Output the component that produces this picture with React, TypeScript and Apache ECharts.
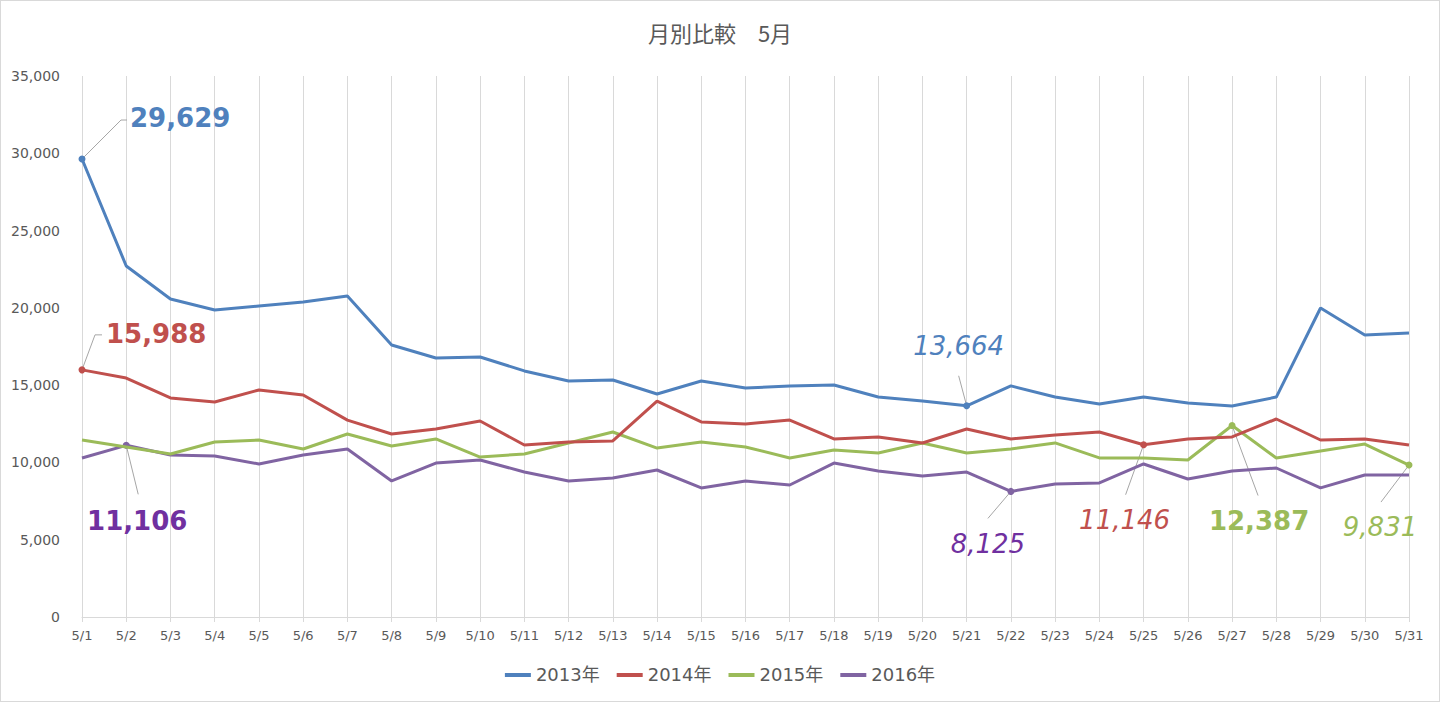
import React, { useEffect, useRef } from "react";
import * as echarts from "echarts";

const days = [
  "5/1", "5/2", "5/3", "5/4", "5/5", "5/6", "5/7", "5/8", "5/9", "5/10",
  "5/11", "5/12", "5/13", "5/14", "5/15", "5/16", "5/17", "5/18", "5/19", "5/20",
  "5/21", "5/22", "5/23", "5/24", "5/25", "5/26", "5/27", "5/28", "5/29", "5/30", "5/31",
];

const y2013 = [
  29629, 22710, 20570, 19860, 20120, 20380, 20770, 17600, 16760, 16820,
  15920, 15270, 15330, 14430, 15270, 14810, 14950, 15010, 14230, 13970,
  13664, 14950, 14230, 13780, 14230, 13840, 13650, 14230, 19990, 18240, 18370,
];
const y2014 = [
  15988, 15460, 14170, 13910, 14690, 14360, 12740, 11840, 12160, 12680,
  11130, 11320, 11390, 13970, 12620, 12490, 12740, 11520, 11650, 11260,
  12160, 11520, 11770, 11970, 11146, 11520, 11650, 12810, 11450, 11520, 11130,
];
const y2015 = [
  11450, 11000, 10550, 11320, 11450, 10870, 11840, 11060, 11520, 10350,
  10550, 11260, 11970, 10930, 11320, 11000, 10290, 10800, 10610, 11260,
  10610, 10870, 11260, 10290, 10290, 10160, 12387, 10290, 10740, 11190, 9831,
];
const y2016 = [
  10290, 11106, 10480, 10420, 9900, 10480, 10870, 8800, 9960, 10160,
  9380, 8800, 8990, 9510, 8350, 8800, 8540, 9960, 9450, 9120,
  9380, 8125, 8600, 8670, 9900, 8930, 9450, 9640, 8350, 9190, 9190,
];

const seriesNames = ["2013年", "2014年", "2015年", "2016年"];
const seriesData = [y2013, y2014, y2015, y2016];
const lineColors = ["#4F81BD", "#C0504D", "#9BBB59", "#8064A2"];
const yTicks = [0, 5000, 10000, 15000, 20000, 25000, 30000, 35000];

// annotated points: series index, day index
const annotations = [
  { s: 0, d: 0, color: "#4F81BD", bold: true, leader: [[39, -39], [45, -39]], tx: 48, ty: -41, align: "left" },
  { s: 1, d: 0, color: "#C0504D", bold: true, leader: [[13, -35], [20, -35]], tx: 24, ty: -36, align: "left" },
  { s: 3, d: 1, color: "#7030A0", bold: true, leader: [[12, 49]], tx: 11, ty: 76, align: "center" },
  { s: 0, d: 20, color: "#4F81BD", bold: false, leader: [[-8, -30]], tx: -8, ty: -60, align: "center" },
  { s: 3, d: 21, color: "#7030A0", bold: false, leader: [[-23, 27]], tx: -23, ty: 53, align: "center" },
  { s: 1, d: 24, color: "#C0504D", bold: false, leader: [[-18, 50]], tx: -19, ty: 75, align: "center" },
  { s: 2, d: 26, color: "#9BBB59", bold: true, leader: [[26, 70]], tx: 27, ty: 95, align: "center" },
  { s: 2, d: 30, color: "#9BBB59", bold: false, leader: [[-28, 37]], tx: -29, ty: 62, align: "center" },
];

const fmt = (v: number) => v.toLocaleString("en-US");

export default function App() {
  const ref = useRef<HTMLDivElement>(null);

  useEffect(() => {
    document.body.style.margin = "0";
    if (!ref.current) return;
    const chart = echarts.init(ref.current, null, { renderer: "svg" });
    const option: any = {
      animation: false,
      backgroundColor: "#ffffff",
      title: {
        text: "月別比較　5月",
        left: "center",
        top: 15,
        textStyle: {
          fontFamily: "'Noto Sans CJK JP', 'DejaVu Sans', sans-serif",
          fontSize: 22,
          fontWeight: "normal",
          color: "#595959",
        },
      },
      legend: {
        top: 660,
        left: "center",
        icon: "rect",
        itemWidth: 26,
        itemHeight: 4,
        itemGap: 17,
        textStyle: {
          fontFamily: "'DejaVu Sans', 'Noto Sans CJK JP', sans-serif",
          fontSize: 18,
          color: "#595959",
        },
        data: seriesNames,
      },
      grid: { left: 81, right: 30, top: 75, bottom: 84 },
      xAxis: {
        type: "category",
        data: days,
        boundaryGap: false,
        axisLine: { lineStyle: { color: "#d9d9d9", width: 1 } },
        axisTick: { show: true, length: 5, lineStyle: { color: "#d9d9d9" } },
        splitLine: { show: true, lineStyle: { color: "#d9d9d9", width: 1 } },
        axisLabel: {
          interval: 0,
          margin: 12,
          color: "#595959",
          fontSize: 13,
          fontFamily: "'DejaVu Sans', sans-serif",
        },
      },
      yAxis: {
        type: "value",
        min: yTicks[0],
        max: yTicks[yTicks.length - 1],
        interval: yTicks[1] - yTicks[0],
        axisLine: { show: false },
        axisTick: { show: false },
        splitLine: { show: false },
        axisLabel: {
          margin: 22,
          color: "#595959",
          fontSize: 14,
          fontFamily: "'DejaVu Sans', sans-serif",
          formatter: (v: number) => fmt(v),
        },
      },
      series: seriesData.map((data, si) => ({
        name: seriesNames[si],
        type: "line",
        data,
        color: lineColors[si],
        lineStyle: { width: 3, color: lineColors[si] },
        symbol: "circle",
        symbolSize: (_v: any, p: any) =>
          annotations.some((a) => a.s === si && a.d === p.dataIndex) ? 7 : 0,
        itemStyle: { color: lineColors[si] },
        emphasis: { disabled: true },
        silent: true,
        z: 10 - si,
      })),
    };
    chart.setOption(option);

    const graphics: any[] = [];
    annotations.forEach((a) => {
      const val = seriesData[a.s][a.d];
      const pt = chart.convertToPixel({ xAxisIndex: 0, yAxisIndex: 0 }, [a.d, val]) as number[];
      const pts = [[pt[0], pt[1]], ...a.leader.map((l) => [pt[0] + l[0], pt[1] + l[1]])];
      graphics.push({
        type: "polyline",
        shape: { points: pts },
        style: { stroke: "#a6a6a6", lineWidth: 1, fill: "none" },
        silent: true,
        z: 5,
      });
      graphics.push({
        type: "text",
        x: pt[0] + a.tx,
        y: pt[1] + a.ty,
        style: {
          text: fmt(val),
          fill: a.color,
          fontSize: 26,
          fontWeight: a.bold ? "bold" : "normal",
          fontStyle: a.bold ? "normal" : "italic",
          fontFamily: "'DejaVu Sans', sans-serif",
          align: a.align,
          verticalAlign: "middle",
        },
        silent: true,
        z: 20,
      });
    });
    chart.setOption({ graphic: graphics });

    return () => chart.dispose();
  }, []);

  return (
    <div
      ref={ref}
      style={{
        width: 1440,
        height: 702,
        boxSizing: "border-box",
        border: "1px solid #d9d9d9",
      }}
    />
  );
}
